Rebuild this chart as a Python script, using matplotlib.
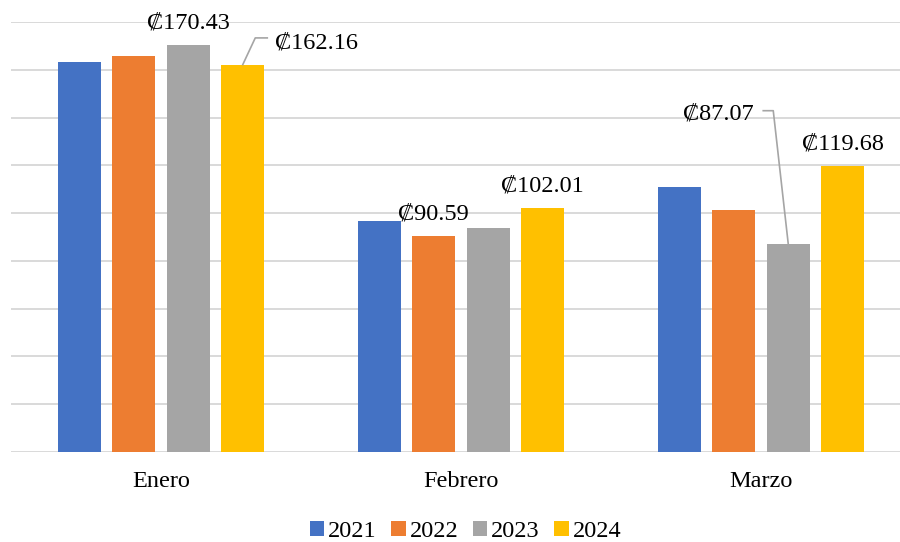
import matplotlib
matplotlib.use("Agg")
import matplotlib.pyplot as plt
import numpy as np

plt.rcParams['font.family'] = ['Liberation Serif', 'DejaVu Serif']

meses = ['Enero', 'Febrero', 'Marzo']
anios = ['2021', '2022', '2023', '2024']
valores = {
    '2021': [163.4, 96.6, 111.1],
    '2022': [165.9, 90.59, 101.3],
    '2023': [170.43, 93.9, 87.07],
    '2024': [162.16, 102.01, 119.68],
}
colores = ['#4472C4', '#ED7D31', '#A5A5A5', '#FFC000']

# which bars get a label: (year, month index)
etiquetas = [('2023', 0), ('2024', 0), ('2022', 1), ('2024', 1), ('2023', 2), ('2024', 2)]

fs = 17.5

fig = plt.figure(figsize=(9, 5.42), dpi=100)
W, H = 900, 542
ax = fig.add_axes([11 / W, (H - 452) / H, 900 / W, (452 - 22) / H])

x = np.arange(len(meses))
paso = 0.1817
ancho = 0.143
for i, a in enumerate(anios):
    ax.bar(x + (i - 1.5) * paso, valores[a], width=ancho, color=colores[i], label=a, zorder=3)

ax.set_xlim(-0.5, 2.5)
ax.set_ylim(0, 180)
ax.set_yticks(np.arange(0, 181, 20))
ax.set_yticklabels([])
ax.grid(axis='y', color='#D9D9D9', linewidth=1.4, zorder=0)
ax.set_xticks(x)
ax.set_xticklabels(meses, fontsize=fs)
ax.tick_params(axis='both', length=0)
ax.tick_params(axis='x', pad=14)
for s in ax.spines.values():
    s.set_visible(False)


def fmt(v):
    return '\u20a1' + format(v, '.2f')


def pix_a_datos(x0, y0, offs):
    p = ax.transData.transform((x0, y0))
    pts = np.array([[p[0] + dx, p[1] + dy] for dx, dy in offs])
    return ax.transData.inverted().transform(pts)


for a, m in etiquetas:
    i = anios.index(a)
    xb = x[m] + (i - 1.5) * paso
    v = valores[a][m]
    if a == '2024' and m == 0:
        ax.annotate(fmt(v), (xb, v), xytext=(32, 16.5), textcoords='offset pixels',
                    ha='left', va='baseline', fontsize=fs)
        pts = pix_a_datos(xb, v, [(0, 0), (12.5, 26.7), (24.5, 26.7)])
        ax.plot(pts[:, 0], pts[:, 1], color='#A5A5A5', linewidth=1.2, zorder=4)
    elif a == '2023' and m == 2:
        ax.annotate(fmt(v), (xb, v), xytext=(-70, 124.5), textcoords='offset pixels',
                    ha='center', va='baseline', fontsize=fs)
        pts = pix_a_datos(xb, v, [(-25, 133.3), (-15, 133.3), (0, 0)])
        ax.plot(pts[:, 0], pts[:, 1], color='#A5A5A5', linewidth=1.2, zorder=4)
    else:
        ax.annotate(fmt(v), (xb, v), xytext=(0, 16.5), textcoords='offset pixels',
                    ha='center', va='baseline', fontsize=fs)

fig.legend(loc='center', bbox_to_anchor=(465.5 / W, 1 - 531.7 / H), ncol=4, frameon=False,
           fontsize=fs, handlelength=0.6, handleheight=0.6, handletextpad=0.15,
           columnspacing=0.6)

fig.savefig('out.png', dpi=100)
